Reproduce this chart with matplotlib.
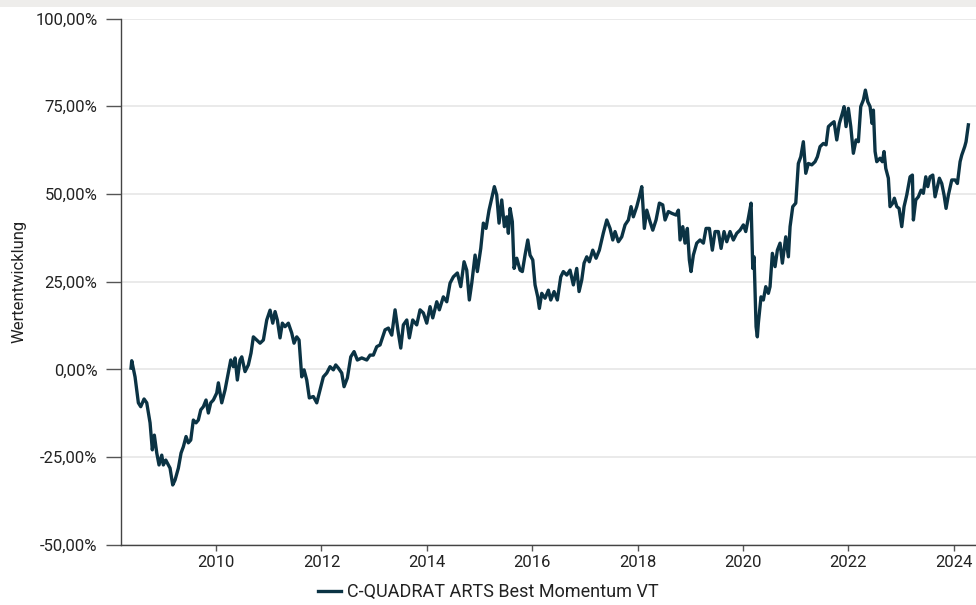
import matplotlib
matplotlib.use('Agg')
import matplotlib.pyplot as plt
from matplotlib.patches import Rectangle
from matplotlib.ticker import FuncFormatter

# ── Data (decimal year, performance in %) ────────────────────────────────────
years = [
    2008.387, 2008.400, 2008.463, 2008.526, 2008.571, 2008.634, 2008.685, 2008.748,
    2008.791, 2008.829, 2008.875, 2008.918, 2008.970, 2009.000, 2009.046, 2009.095,
    2009.127, 2009.178, 2009.222, 2009.285, 2009.336, 2009.380, 2009.431, 2009.474,
    2009.520, 2009.569, 2009.620, 2009.664, 2009.710, 2009.759, 2009.810, 2009.854,
    2009.899, 2009.949, 2010.013, 2010.044, 2010.108, 2010.171, 2010.233, 2010.279,
    2010.328, 2010.361, 2010.404, 2010.455, 2010.488, 2010.550, 2010.613, 2010.664,
    2010.708, 2010.772, 2010.835, 2010.898, 2010.962, 2011.025, 2011.076, 2011.120,
    2011.163, 2011.214, 2011.258, 2011.309, 2011.372, 2011.436, 2011.480, 2011.531,
    2011.575, 2011.626, 2011.670, 2011.721, 2011.770, 2011.846, 2011.911, 2011.973,
    2012.036, 2012.101, 2012.163, 2012.226, 2012.271, 2012.321, 2012.385, 2012.429,
    2012.492, 2012.556, 2012.619, 2012.681, 2012.765, 2012.860, 2012.922, 2012.985,
    2013.049, 2013.112, 2013.207, 2013.270, 2013.334, 2013.397, 2013.459, 2013.505,
    2013.554, 2013.619, 2013.668, 2013.732, 2013.808, 2013.871, 2013.934, 2013.998,
    2014.061, 2014.112, 2014.188, 2014.237, 2014.313, 2014.378, 2014.440, 2014.503,
    2014.579, 2014.643, 2014.706, 2014.757, 2014.806, 2014.852, 2014.915, 2014.958,
    2015.023, 2015.072, 2015.123, 2015.180, 2015.231, 2015.281, 2015.326, 2015.370,
    2015.421, 2015.471, 2015.516, 2015.547, 2015.579, 2015.622, 2015.655, 2015.706,
    2015.769, 2015.812, 2015.863, 2015.915, 2015.958, 2016.010, 2016.053, 2016.104,
    2016.135, 2016.180, 2016.243, 2016.306, 2016.351, 2016.414, 2016.476, 2016.541,
    2016.590, 2016.655, 2016.717, 2016.780, 2016.844, 2016.888, 2016.939, 2016.983,
    2017.034, 2017.083, 2017.148, 2017.211, 2017.273, 2017.349, 2017.414, 2017.476,
    2017.528, 2017.571, 2017.634, 2017.698, 2017.761, 2017.824, 2017.875, 2017.918,
    2017.983, 2018.032, 2018.078, 2018.127, 2018.173, 2018.235, 2018.287, 2018.349,
    2018.412, 2018.476, 2018.520, 2018.583, 2018.647, 2018.729, 2018.773, 2018.805,
    2018.856, 2018.899, 2018.943, 2018.981, 2019.013, 2019.057, 2019.121, 2019.184,
    2019.247, 2019.298, 2019.361, 2019.417, 2019.469, 2019.531, 2019.583, 2019.639,
    2019.691, 2019.753, 2019.816, 2019.880, 2019.943, 2020.006, 2020.051, 2020.100,
    2020.152, 2020.184, 2020.209, 2020.247, 2020.271, 2020.290, 2020.341, 2020.385,
    2020.431, 2020.480, 2020.512, 2020.556, 2020.607, 2020.651, 2020.702, 2020.746,
    2020.810, 2020.860, 2020.892, 2020.943, 2021.000, 2021.049, 2021.095, 2021.144,
    2021.190, 2021.239, 2021.304, 2021.366, 2021.410, 2021.461, 2021.524, 2021.575,
    2021.619, 2021.683, 2021.727, 2021.778, 2021.827, 2021.884, 2021.917, 2021.954,
    2021.998, 2022.044, 2022.093, 2022.144, 2022.188, 2022.233, 2022.283, 2022.321,
    2022.366, 2022.410, 2022.448, 2022.473, 2022.505, 2022.537, 2022.600, 2022.643,
    2022.675, 2022.708, 2022.757, 2022.789, 2022.841, 2022.871, 2022.917, 2022.960,
    2023.011, 2023.055, 2023.106, 2023.169, 2023.213, 2023.232, 2023.277, 2023.326,
    2023.378, 2023.421, 2023.467, 2023.505, 2023.548, 2023.600, 2023.643, 2023.687,
    2023.725, 2023.770, 2023.814, 2023.852, 2023.896, 2023.960, 2024.023, 2024.067,
    2024.118, 2024.150, 2024.206, 2024.231, 2024.275,
]
perf = [
    0.4, 2.5, -2.1, -9.5, -10.6, -8.4, -9.5, -15.2,
    -22.9, -18.7, -23.8, -27.2, -24.4, -27.2, -25.8, -27.2,
    -28.1, -32.9, -31.5, -28.1, -23.8, -22.0, -19.1, -20.9,
    -20.1, -14.4, -15.2, -14.4, -11.5, -10.6, -8.7, -12.4,
    -9.5, -8.7, -6.7, -3.8, -9.5, -5.8, -1.0, 2.7,
    0.8, 3.3, -3.0, 2.7, 3.6, -0.6, 1.3, 4.7,
    9.3, 8.4, 7.5, 8.4, 14.1, 16.9, 13.2, 16.5,
    14.1, 9.0, 13.2, 12.2, 13.2, 10.4, 7.5, 9.3,
    8.4, -2.1, -0.1, -3.0, -8.1, -7.7, -9.5, -5.8,
    -2.1, -1.0, 0.8, -0.1, 1.3, 0.4, -1.0, -4.9,
    -2.4, 3.6, 5.1, 2.7, 3.3, 2.7, 4.1, 4.1,
    6.5, 7.0, 11.3, 11.8, 9.8, 17.0, 10.4, 6.1,
    12.7, 14.1, 9.0, 14.1, 12.7, 17.0, 16.1, 13.2,
    17.9, 14.7, 19.3, 17.0, 20.7, 19.3, 24.6, 26.4,
    27.5, 23.6, 30.7, 28.3, 19.8, 24.6, 32.6, 27.9,
    34.5, 41.7, 40.2, 45.4, 48.8, 52.1, 49.7, 41.7,
    48.3, 40.7, 43.5, 38.8, 45.9, 42.1, 28.8, 31.7,
    28.3, 27.9, 32.6, 36.9, 32.6, 31.2, 24.1, 20.7,
    17.4, 21.7, 20.3, 22.6, 19.8, 22.2, 19.8, 26.4,
    27.9, 26.9, 28.3, 24.1, 28.8, 22.2, 25.5, 30.3,
    32.1, 30.7, 34.0, 31.7, 34.0, 38.9, 42.6, 40.2,
    36.9, 39.3, 36.4, 37.8, 41.2, 42.6, 46.4, 43.5,
    46.4, 49.2, 52.1, 40.2, 45.4, 42.1, 39.7, 42.6,
    47.4, 46.9, 42.6, 45.0, 44.5, 44.0, 45.4, 36.9,
    40.7, 36.0, 40.2, 31.2, 27.9, 32.6, 36.0, 36.9,
    36.0, 40.2, 40.2, 34.0, 39.3, 39.3, 34.5, 39.3,
    36.4, 39.3, 36.9, 38.8, 39.7, 41.2, 39.3, 43.1,
    47.4, 28.8, 32.1, 12.2, 9.3, 13.2, 20.7, 19.8,
    23.6, 21.7, 23.6, 33.1, 29.3, 34.0, 36.0, 30.3,
    37.8, 32.1, 40.7, 46.4, 47.4, 58.7, 60.6, 64.9,
    55.9, 58.7, 58.3, 59.2, 60.6, 63.5, 64.4, 64.0,
    69.2, 70.1, 70.6, 65.4, 70.1, 73.0, 74.9, 69.2,
    74.4, 69.2, 61.6, 65.4, 64.9, 74.9, 76.8, 79.6,
    76.3, 74.9, 70.1, 73.9, 62.1, 59.2, 60.2, 59.2,
    62.1, 57.3, 54.5, 46.4, 47.4, 48.8, 46.4, 45.9,
    40.7, 46.4, 49.7, 54.9, 55.4, 42.6, 48.3, 49.2,
    51.1, 50.2, 54.9, 52.1, 54.9, 55.4, 49.2, 52.1,
    54.5, 53.0, 49.7, 45.9, 49.7, 54.0, 54.0, 53.0,
    59.2, 61.1, 63.5, 64.9, 69.7,
]
series_name = 'C-QUADRAT ARTS Best Momentum VT'
x_ticks = list(range(2010, 2025, 2))
y_ticks = [-50, -25, 0, 25, 50, 75, 100]

line_col = '#0b3344'
text_col = '#222222'

plt.rcParams['font.family'] = ['Roboto', 'DejaVu Sans']

fig = plt.figure(figsize=(9.76, 6.05), dpi=100)
fig.patches.append(Rectangle((0, 0.988), 1, 0.012, transform=fig.transFigure,
                             facecolor='#eeedeb', edgecolor='none', zorder=0))

ax = fig.add_axes([0.124, 0.0992, 0.876, 0.8702])
ax.plot(years, perf, color=line_col, lw=2.4, solid_joinstyle='round',
        label=series_name, zorder=3)

ax.set_xlim(2008.197, 2024.42)
ax.set_ylim(-50, 100)
ax.set_xticks(x_ticks)
ax.set_xticklabels([str(y) for y in x_ticks])
ax.set_yticks(y_ticks)
ax.yaxis.set_major_formatter(FuncFormatter(lambda v, p: f'{v:.2f}%'.replace('.', ',')))

ax.grid(axis='y', color='#e6e6e6', lw=1.2, zorder=0)
for s in ['top', 'right']:
    ax.spines[s].set_visible(False)
for s in ['left', 'bottom']:
    ax.spines[s].set_color('#444444')
    ax.spines[s].set_linewidth(1.0)

ax.tick_params(axis='y', length=11, width=1.0, color='#555555', pad=6,
               labelsize=12, labelcolor=text_col)
ax.tick_params(axis='x', length=4, width=1.0, color='#555555', pad=3,
               labelsize=12, labelcolor=text_col)

ax.set_ylabel('Wertentwicklung', fontsize=12, color=text_col, labelpad=6)

fig.legend(loc='lower center', bbox_to_anchor=(0.5, -0.02), frameon=False,
           fontsize=13, handlelength=1.3, handletextpad=0.3,
           labelcolor=text_col)

fig.savefig('out.png', dpi=100)
